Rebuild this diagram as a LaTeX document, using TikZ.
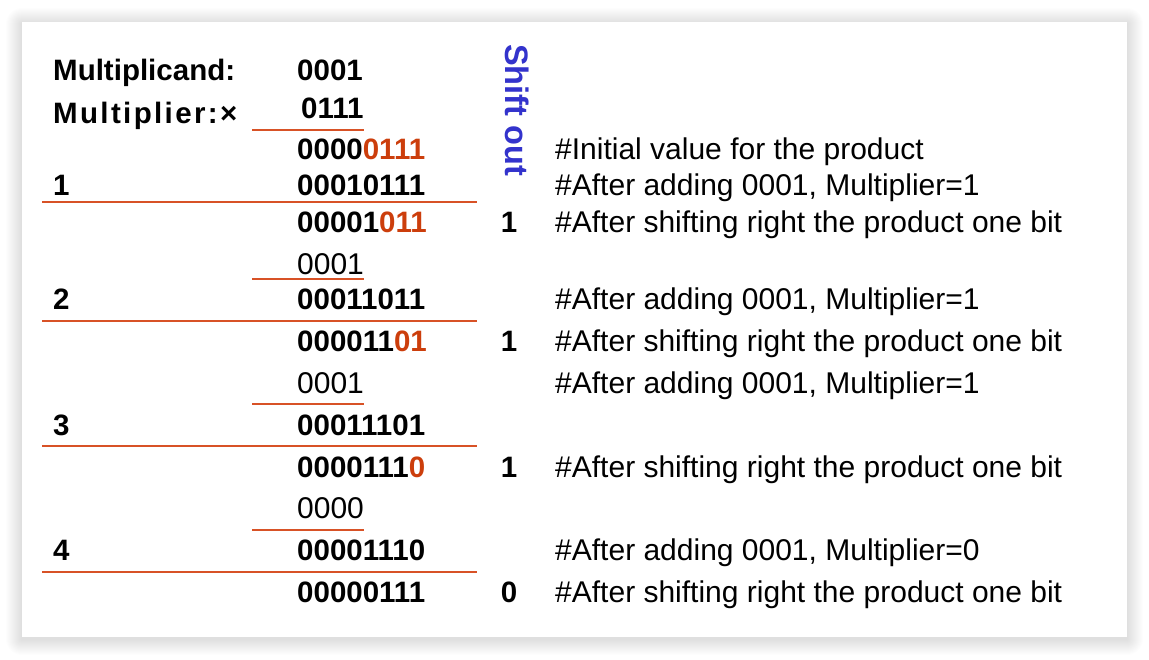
\documentclass[tikz,border=0pt]{standalone}
\usepackage{fontspec}
\setmainfont{Liberation Sans}
\definecolor{rulered}{RGB}{216,82,38}
\definecolor{bitred}{RGB}{204,62,12}
\definecolor{shiftblue}{RGB}{51,51,204}
\newcommand{\hi}[1]{\textcolor{bitred}{#1}}
\begin{document}
\begin{tikzpicture}[x=1pt,y=-1pt,
  txt/.style={anchor=base west,inner sep=0pt,font=\fontsize{30}{30}\selectfont},
  bold/.style={anchor=base west,inner sep=0pt,font=\fontsize{29.5}{30}\selectfont\bfseries},
  bitout/.style={anchor=base,inner sep=0pt,font=\fontsize{29.5}{30}\selectfont\bfseries},
  shortrule/.style={rulered,line width=2pt},
  longrule/.style={rulered,line width=2pt},
  shadowstep/.style={fill=black,opacity=0.006},
  cardbox/.style={fill=white,inner sep=0pt,minimum width=1105pt,minimum height=615pt}]
\useasboundingbox (0,0) rectangle (1149,659);
\fill[white] (0,0) rectangle (1149,659);
% soft drop shadow built from faint nested layers
\foreach \i in {1,...,16}
  \fill[shadowstep,rounded corners=\i pt] (22-\i,22-\i+2) rectangle (1127+\i,637+\i+2);
\node[cardbox,anchor=north west] (card) at (22,22) {};

% operand labels and step numbers
\node[bold] (mcand) at (53,80) {Multiplicand:};
\node[bold,font=\fontsize{29.5}{30}\selectfont\bfseries\addfontfeature{LetterSpace=8}] (mplier) at (53,123) {Multiplier:×};
\node[bold] (n1) at (53,195) {1};
\node[bold] (n2) at (53,309) {2};
\node[bold] (n3) at (53,435) {3};
\node[bold] (n4) at (53,560) {4};

% product register column
\node[bold] (b1) at (297,80) {0001};
\node[bold] (b2) at (301,118) {0111};
\node[bold] (b3) at (297,159) {0000\hi{0111}};
\node[bold] (b4) at (297,195) {00010111};
\node[bold] (b5) at (297,232) {00001\hi{011}};
\node[txt]  (b6) at (297,274) {0001};
\node[bold] (b7) at (297,309) {00011011};
\node[bold] (b8) at (297,351) {000011\hi{01}};
\node[txt]  (b9) at (297,393) {0001};
\node[bold] (b10) at (297,435) {00011101};
\node[bold] (b11) at (297,477) {0000111\hi{0}};
\node[txt]  (b12) at (297,518) {0000};
\node[bold] (b13) at (297,560) {00001110};
\node[bold] (b14) at (297,602) {00000111};

% rules under the additions
\draw[shortrule] (252,129.5) -- (364,129.5);
\draw[shortrule] (252,279) -- (364,279);
\draw[shortrule] (252,404.3) -- (364,404.3);
\draw[shortrule] (252,530) -- (364,530);
\draw[longrule] (42,202) -- (477,202);
\draw[longrule] (42,320.7) -- (477,320.7);
\draw[longrule] (42,446) -- (477,446);
\draw[longrule] (42,571.7) -- (477,571.7);

% shifted-out bits
\node[anchor=base west,inner sep=0pt,rotate=-90,text=shiftblue,
  font=\fontsize{32.5}{33}\selectfont\bfseries] (shift) at (505,44) {Shift out};
\node[bitout] (s1) at (509,232) {1};
\node[bitout] (s2) at (509,351) {1};
\node[bitout] (s3) at (509,477) {1};
\node[bitout] (s4) at (509,602) {0};

% comments
\node[txt] (c1) at (555,159) {\#Initial value for the product};
\node[txt] (c2) at (555,195) {\#After adding 0001, Multiplier=1};
\node[txt] (c3) at (555,232) {\#After shifting right the product one bit};
\node[txt] (c4) at (555,309) {\#After adding 0001, Multiplier=1};
\node[txt] (c5) at (555,351) {\#After shifting right the product one bit};
\node[txt] (c6) at (555,393) {\#After adding 0001, Multiplier=1};
\node[txt] (c7) at (555,477) {\#After shifting right the product one bit};
\node[txt] (c8) at (555,560) {\#After adding 0001, Multiplier=0};
\node[txt] (c9) at (555,602) {\#After shifting right the product one bit};
\end{tikzpicture}
\end{document}
